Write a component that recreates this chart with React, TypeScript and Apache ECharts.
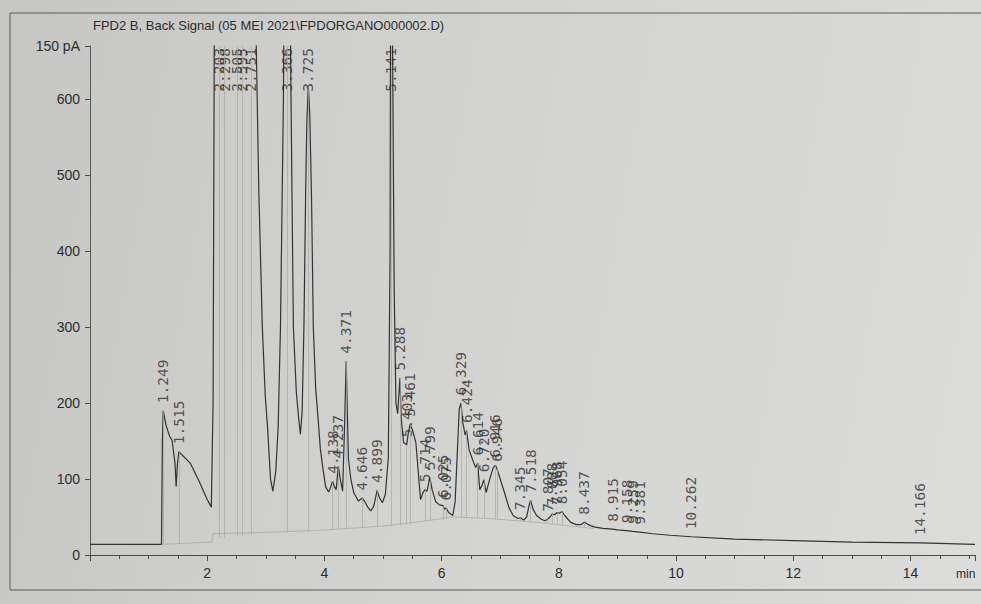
import React, { useEffect, useRef } from "react";
import * as echarts from "echarts";

const titleText = "FPD2 B, Back Signal (05 MEI 2021\\FPDORGANO000002.D)";
const unitLabel = "150 pA";
const xUnit = "min";

// chromatogram trace (retention time in min, signal)
const traceTime = [
  0.0, 0.5, 1.0, 1.22, 1.235, 1.249, 1.3, 1.36, 1.4, 1.45, 1.47, 1.49, 1.515, 1.58, 1.71, 1.85, 2.0, 2.07,
  2.1, 2.13, 2.3, 2.5, 2.7, 2.78, 2.83, 2.88, 2.94, 2.99, 3.03, 3.08, 3.12, 3.17, 3.21, 3.25, 3.3, 3.34,
  3.366, 3.39, 3.43, 3.47, 3.52, 3.56, 3.59, 3.62, 3.65, 3.68, 3.7, 3.725, 3.75, 3.78, 3.81, 3.85, 3.88,
  3.93, 3.97, 4.02, 4.07, 4.1, 4.138, 4.17, 4.2, 4.237, 4.27, 4.31, 4.34, 4.371, 4.39, 4.41, 4.45, 4.5,
  4.58, 4.646, 4.69, 4.74, 4.79, 4.84, 4.899, 4.94, 4.99, 5.04, 5.09, 5.12, 5.141, 5.16, 5.19, 5.22, 5.25,
  5.288, 5.31, 5.35, 5.403, 5.43, 5.461, 5.5, 5.56, 5.6, 5.64, 5.68, 5.714, 5.75, 5.799, 5.84, 5.9, 5.96,
  6.025, 6.05, 6.075, 6.12, 6.19, 6.23, 6.27, 6.3, 6.329, 6.36, 6.4, 6.424, 6.47, 6.53, 6.58, 6.614, 6.65,
  6.69, 6.72, 6.76, 6.82, 6.88, 6.916, 6.946, 7.0, 7.08, 7.15, 7.22, 7.3, 7.345, 7.4, 7.45, 7.49, 7.518,
  7.56, 7.62, 7.7, 7.76, 7.807, 7.85, 7.888, 7.93, 7.968, 8.0, 8.054, 8.1, 8.2, 8.3, 8.38, 8.437, 8.5, 8.6,
  8.75, 8.915, 9.0, 9.158, 9.259, 9.381, 9.6, 9.9, 10.262, 11.0, 12.0, 13.0, 14.166, 15.1,
];
const traceSignal = [
  14, 14, 14, 14, 150, 190, 170, 156, 151, 121, 90, 118, 136, 131, 121, 99, 73, 63,
  200, 900, 1500, 1500, 1500, 1000, 700, 480, 300, 210, 167, 100, 84, 110, 168, 300, 600, 1000,
  1200, 1000, 600, 300, 215, 180, 159, 190, 300, 480, 570, 618, 580, 470, 300, 220, 191,
  140, 116, 90, 83, 88, 97, 90, 86, 117, 100, 84, 160, 255, 190, 126, 100, 82,
  71, 75, 70, 63, 58, 64, 85, 75, 69, 80, 128, 400, 1300, 700, 350, 200, 186,
  233, 180, 148, 145, 160, 172, 165, 148, 110, 73, 82, 86, 84, 102, 85, 70, 66,
  65, 60, 62, 56, 52, 70, 140, 192, 200, 175, 158, 164, 138, 125, 115, 121, 86,
  92, 99, 82, 100, 115, 118, 113, 100, 80, 62, 52, 48, 49, 46, 50, 65, 72,
  60, 52, 47, 45, 47, 50, 54, 53, 56, 55, 57, 52, 43, 40, 40, 43, 40, 37,
  35, 34, 33, 32, 31, 30, 28, 26, 24, 21, 19, 17, 16, 14,
];

// integration baseline
const baseTime = [1.22, 2.08, 2.1, 3.1, 4.0, 5.0, 5.64, 6.2, 6.8, 7.3, 7.75, 8.2, 8.6];
const baseSignal = [14, 17, 28, 30, 33, 38, 44, 50, 48, 45, 42, 38, 35];

// integrated peaks
const peakLabels = [
  "1.249", "1.515", "2.203", "2.298", "2.505", "2.595", "2.751", "3.366", "3.725", "4.138", "4.237",
  "4.371", "4.646", "4.899", "5.141", "5.288", "5.403", "5.461", "5.714", "5.799", "6.025", "6.075",
  "6.329", "6.424", "6.614", "6.720", "6.916", "6.946", "7.345", "7.518", "7.807", "7.888", "7.968",
  "8.054", "8.437", "8.915", "9.158", "9.259", "9.381", "10.262", "14.166",
];
const peakHeights = [
  190, 136, 1500, 1500, 1500, 1500, 1500, 1200, 618, 97, 117,
  255, 75, 85, 1300, 233, 145, 172, 86, 102, 65, 62,
  200, 164, 121, 99, 118, 113, 49, 72, 47, 54, 56,
  57, 43, 34, 32, 31, 30, 24, 16,
];
const peakBase = [
  14, 15, 22, 23, 24, 25, 26, 29, 30, 33, 33,
  34, 35, 37, 38, 39, 40, 40, 44, 45, 47, 48,
  50, 50, 49, 49, 48, 48, 45, 44, 42, 41, 40,
  40, 37, 34, 32, 31, 30, 24, 16,
];

const yTicks = [0, 100, 200, 300, 400, 500, 600];
const yMax = 670;
const xMax = 15.1;

export default function App() {
  const ref = useRef<HTMLDivElement>(null);

  useEffect(() => {
    if (!ref.current) return;
    const chart = echarts.init(ref.current, null, { renderer: "svg" });
    const font = "'Liberation Sans', Arial, sans-serif";
    const ink = "#2d2d2d";

    const trace = traceTime.map((t, i) => [t, traceSignal[i]]);
    const base = baseTime.map((t, i) => [t, baseSignal[i]]);
    const peakTimes = peakLabels.map((s) => parseFloat(s));
    const labelCap = 600;
    const peaks = peakTimes.map((t, i) => ({
      value: [t, Math.min(peakHeights[i], labelCap)],
      name: peakLabels[i],
    }));
    const drops = peakTimes.map((t, i) => [
      { coord: [t, peakBase[i]] },
      { coord: [t, Math.min(peakHeights[i], yMax)] },
    ]);

    chart.setOption({
      animation: false,
      backgroundColor: "transparent",
      title: {
        text: titleText,
        left: 88,
        top: 14,
        textStyle: { fontFamily: font, fontSize: 13, fontWeight: "normal", color: ink },
      },
      grid: { left: 90, right: 6, top: 46, bottom: 49 },
      xAxis: {
        type: "value",
        min: 0,
        max: xMax,
        interval: 2,
        axisLine: { show: true, lineStyle: { color: "#4a4a4a", width: 1 } },
        axisTick: { show: true, length: 6, lineStyle: { color: "#4a4a4a" } },
        minorTick: { show: true, splitNumber: 4, length: 4, lineStyle: { color: "#4a4a4a" } },
        splitLine: { show: false },
        axisLabel: {
          showMinLabel: false,
          showMaxLabel: false,
          margin: 11,
          fontFamily: font,
          fontSize: 14,
          color: ink,
        },
      },
      yAxis: {
        type: "value",
        min: 0,
        max: yMax,
        interval: 100,
        axisLine: { show: true, lineStyle: { color: "#5a5a5a", width: 1 } },
        axisTick: { show: true, length: 5, lineStyle: { color: "#4a4a4a" } },
        splitLine: { show: false },
        axisLabel: {
          margin: 10,
          fontFamily: font,
          fontSize: 14,
          color: ink,
          formatter: (v: number) => (v === yMax ? unitLabel : yTicks.includes(v) ? String(v) : ""),
        },
      },
      series: [
        {
          type: "line",
          data: base,
          showSymbol: false,
          silent: true,
          lineStyle: { color: "#aaaaa8", width: 0.8 },
          z: 1,
        },
        {
          type: "line",
          data: trace,
          showSymbol: false,
          clip: true,
          silent: true,
          lineStyle: { color: "#333333", width: 1.2 },
          markLine: {
            silent: true,
            symbol: ["none", "none"],
            label: { show: false },
            lineStyle: { color: "#a8a8a6", width: 0.7, type: "solid" },
            data: drops,
          },
          z: 3,
        },
        {
          type: "scatter",
          data: peaks,
          symbolSize: 1,
          itemStyle: { color: "transparent" },
          silent: true,
          label: {
            show: true,
            formatter: (p: any) => p.name,
            rotate: 90,
            position: "top",
            distance: 7,
            align: "left",
            verticalAlign: "middle",
            fontFamily: "'DejaVu Sans Mono', monospace",
            fontSize: 14.5,
            color: ink,
          },
          z: 4,
        },
      ],
      graphic: [
        {
          type: "rect",
          shape: { x: 10, y: 13, width: 1000, height: 577 },
          style: { fill: "none", stroke: "#5a5a5a", lineWidth: 1 },
          silent: true,
        },
        {
          type: "text",
          left: 956,
          top: 568,
          style: { text: xUnit, fontFamily: font, fontSize: 12, fill: ink },
          silent: true,
        },
      ],
    });

    return () => chart.dispose();
  }, []);

  return (
    <div
      style={{
        position: "fixed",
        left: 0,
        top: 0,
        width: 981,
        height: 604,
        background: "linear-gradient(100deg, #c6c6c4 0%, #d2d2d0 45%, #dcdcda 100%)",
      }}
    >
      <div ref={ref} style={{ width: 981, height: 604 }} />
    </div>
  );
}
